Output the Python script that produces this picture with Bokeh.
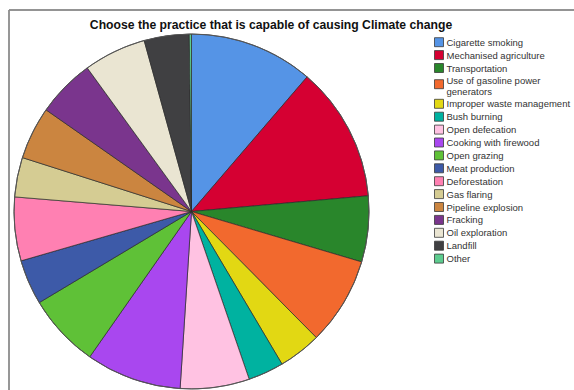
import numpy as np
from bokeh.plotting import figure
from bokeh.models import Range1d, ColumnDataSource
from bokeh.embed import file_html
from bokeh.resources import INLINE
from bokeh.core.properties import value

# ---- data -------------------------------------------------------------
title = "Choose the practice that is capable of causing Climate change"

categories = [
    "Cigarette smoking",
    "Mechanised agriculture",
    "Transportation",
    "Use of gasoline power\ngenerators",
    "Improper waste management",
    "Bush burning",
    "Open defecation",
    "Cooking with firewood",
    "Open grazing",
    "Meat production",
    "Deforestation",
    "Gas flaring",
    "Pipeline explosion",
    "Fracking",
    "Oil exploration",
    "Landfill",
    "Other",
]

percent = [11.3, 12.3, 6.0, 8.0, 3.9, 3.25, 6.3, 8.7, 6.7, 4.1,
           5.8, 3.6, 4.8, 5.3, 5.7, 4.1, 0.2]

colors = [
    "#5594E6", "#D50032", "#29862B", "#F2692E", "#E2D813", "#00B2A0",
    "#FFC2E2", "#A947EF", "#5FC137", "#3D5AA8", "#FF80B2", "#D5CC93",
    "#CB8540", "#7A358D", "#EAE5D2", "#404042", "#5DCC8F",
]

# ---- canvas (data units == pixels, y measured from the bottom) --------
W, H = 574, 390
p = figure(width=W, height=H, x_range=Range1d(0, W), y_range=Range1d(0, H),
           output_backend="svg", toolbar_location=None, min_border=0,
           x_axis_location=None, y_axis_location=None)
p.grid.visible = False
p.outline_line_color = None
p.background_fill_color = "white"
p.border_fill_color = "white"

def Y(y):
    return H - y

# frame lines along the top and left edge
p.segment(x0=[8.5], y0=[Y(9.5)], x1=[W], y1=[Y(9.5)], line_color="#2a2a2a", line_width=1.2)
p.segment(x0=[8.5], y0=[Y(9.5)], x1=[8.5], y1=[0], line_color="#8c8c8c", line_width=1.8)

# ---- pie: clockwise from 12 o'clock ------------------------------------
vals = np.array(percent, dtype=float)
frac = vals / vals.sum()
cum_end = np.cumsum(frac)
cum_start = cum_end - frac
start_angle = np.pi / 2 - 2 * np.pi * cum_start
end_angle = np.pi / 2 - 2 * np.pi * cum_end

cx, cy, R = 191.0, 211.0, 177.5
pie_src = ColumnDataSource(dict(
    category=categories, percent=percent, color=colors,
    start=start_angle, end=end_angle,
))
p.wedge(x=cx, y=Y(cy), radius=R, radius_units="screen",
        start_angle="start", end_angle="end", direction="clock",
        fill_color="color", line_color="#2b2b2b", line_width=0.7,
        source=pie_src)
p.scatter(x=[cx], y=[Y(cy)], size=2 * R, marker="circle",
          fill_color=None, line_color="#555555", line_width=1.0)

# ---- title --------------------------------------------------------------
p.text(x=[270.5], y=[Y(24.5)], text=[title], text_align="center",
       text_baseline="middle", text_font=value("Liberation Sans"),
       text_font_style="bold", text_font_size="12.2px", text_color="#111111")

# ---- legend -------------------------------------------------------------
row_gap, line_gap, first_row = 12.9, 10.0, 41.7
ly, sy = [], []
extra = 0
for lab in categories:
    n_extra = lab.count("\n")
    top_line = first_row + row_gap * len(ly) + line_gap * extra
    ly.append(Y(top_line + line_gap * n_extra / 2))
    sy.append(Y(top_line + 3.3 * n_extra))
    extra += n_extra

leg_src = ColumnDataSource(dict(label=categories, color=colors, ty=ly, sy=sy))
p.rect(x=438.5, y="sy", width=9, height=9, width_units="screen",
       height_units="screen", fill_color="color", line_color="#3a3a3a",
       line_width=0.8, source=leg_src)
p.text(x=446, y="ty", text="label", text_align="left", text_baseline="middle",
       text_font=value("Liberation Sans"), text_font_size="9.5px",
       text_line_height=1.05, text_color="#333333", source=leg_src)

open("out.html", "w").write(file_html(p, INLINE))
